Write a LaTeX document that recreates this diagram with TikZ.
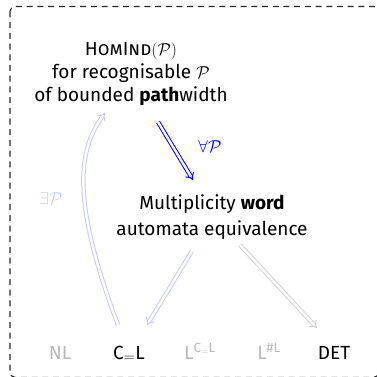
\documentclass[tikz,border=0pt]{standalone}
\usepackage{fontspec}
\setmainfont{Fira Sans}
\usetikzlibrary{arrows.meta}
\definecolor{dblue}{RGB}{0,0,255}
\definecolor{lblue}{RGB}{200,200,255}
\definecolor{lgrey}{RGB}{210,210,210}
\definecolor{tgrey}{RGB}{185,185,185}
\tikzset{
  txt/.style={inner sep=0pt, align=center, font=\fontsize{19}{24}\selectfont},
  imp/.style={double, double distance=2.4pt, line width=1pt, -{Implies[scale=1.3]}},
}
\begin{document}
\begin{tikzpicture}[x=1pt,y=-1pt]
\useasboundingbox (0,0) rectangle (377,377);
\draw[line width=1.1pt, black!85, dash pattern=on 6pt off 4.7pt, rounded corners=5pt] (10,6.5) rectangle (378.8,377.3);
\node[txt, anchor=base, font=\fontsize{19}{23}\selectfont] (t) at (131,102) {\textsc{HomInd}$(\mathcal{P})$\\for recognisable $\mathcal{P}$\\of bounded \textbf{path}width};
\node[txt, anchor=base, font=\fontsize{19}{26}\selectfont] (m) at (212,235) {Multiplicity \textbf{word}\\automata equivalence};
\node[txt, anchor=base, text=tgrey] (nl) at (60,359) {NL};
\node[txt, anchor=base] (cl) at (129,359) {C$_{=}$L};
\node[txt, anchor=base, text=tgrey] (lcl) at (200,359) {L\textsuperscript{C$_=$L}};
\node[txt, anchor=base, text=tgrey] (lsl) at (269,359) {L\textsuperscript{\#L}};
\node[txt, anchor=base] (det) at (334,359) {DET};
\draw[imp, dblue] ([shift={(27,20)}]t.base) -- ([shift={(-19,-55)}]m.base);
\node[txt, text=dblue] (fa) at (210,146) {$\forall\mathcal{P}$};
\draw[imp, lblue] ([shift={(-11,-34)}]cl.base) .. controls (71,200) and (78,150) .. ([shift={(-26,11)}]t.base);
\node[txt, text=lblue] (ex) at (51,198) {$\exists\mathcal{P}$};
\draw[imp, lblue] ([shift={(-20,16)}]m.base) -- ([shift={(18,-34)}]cl.base);
\draw[imp, lgrey] ([shift={(28,10)}]m.base) -- ([shift={(-17,-31)}]det.base);
\end{tikzpicture}
\end{document}
